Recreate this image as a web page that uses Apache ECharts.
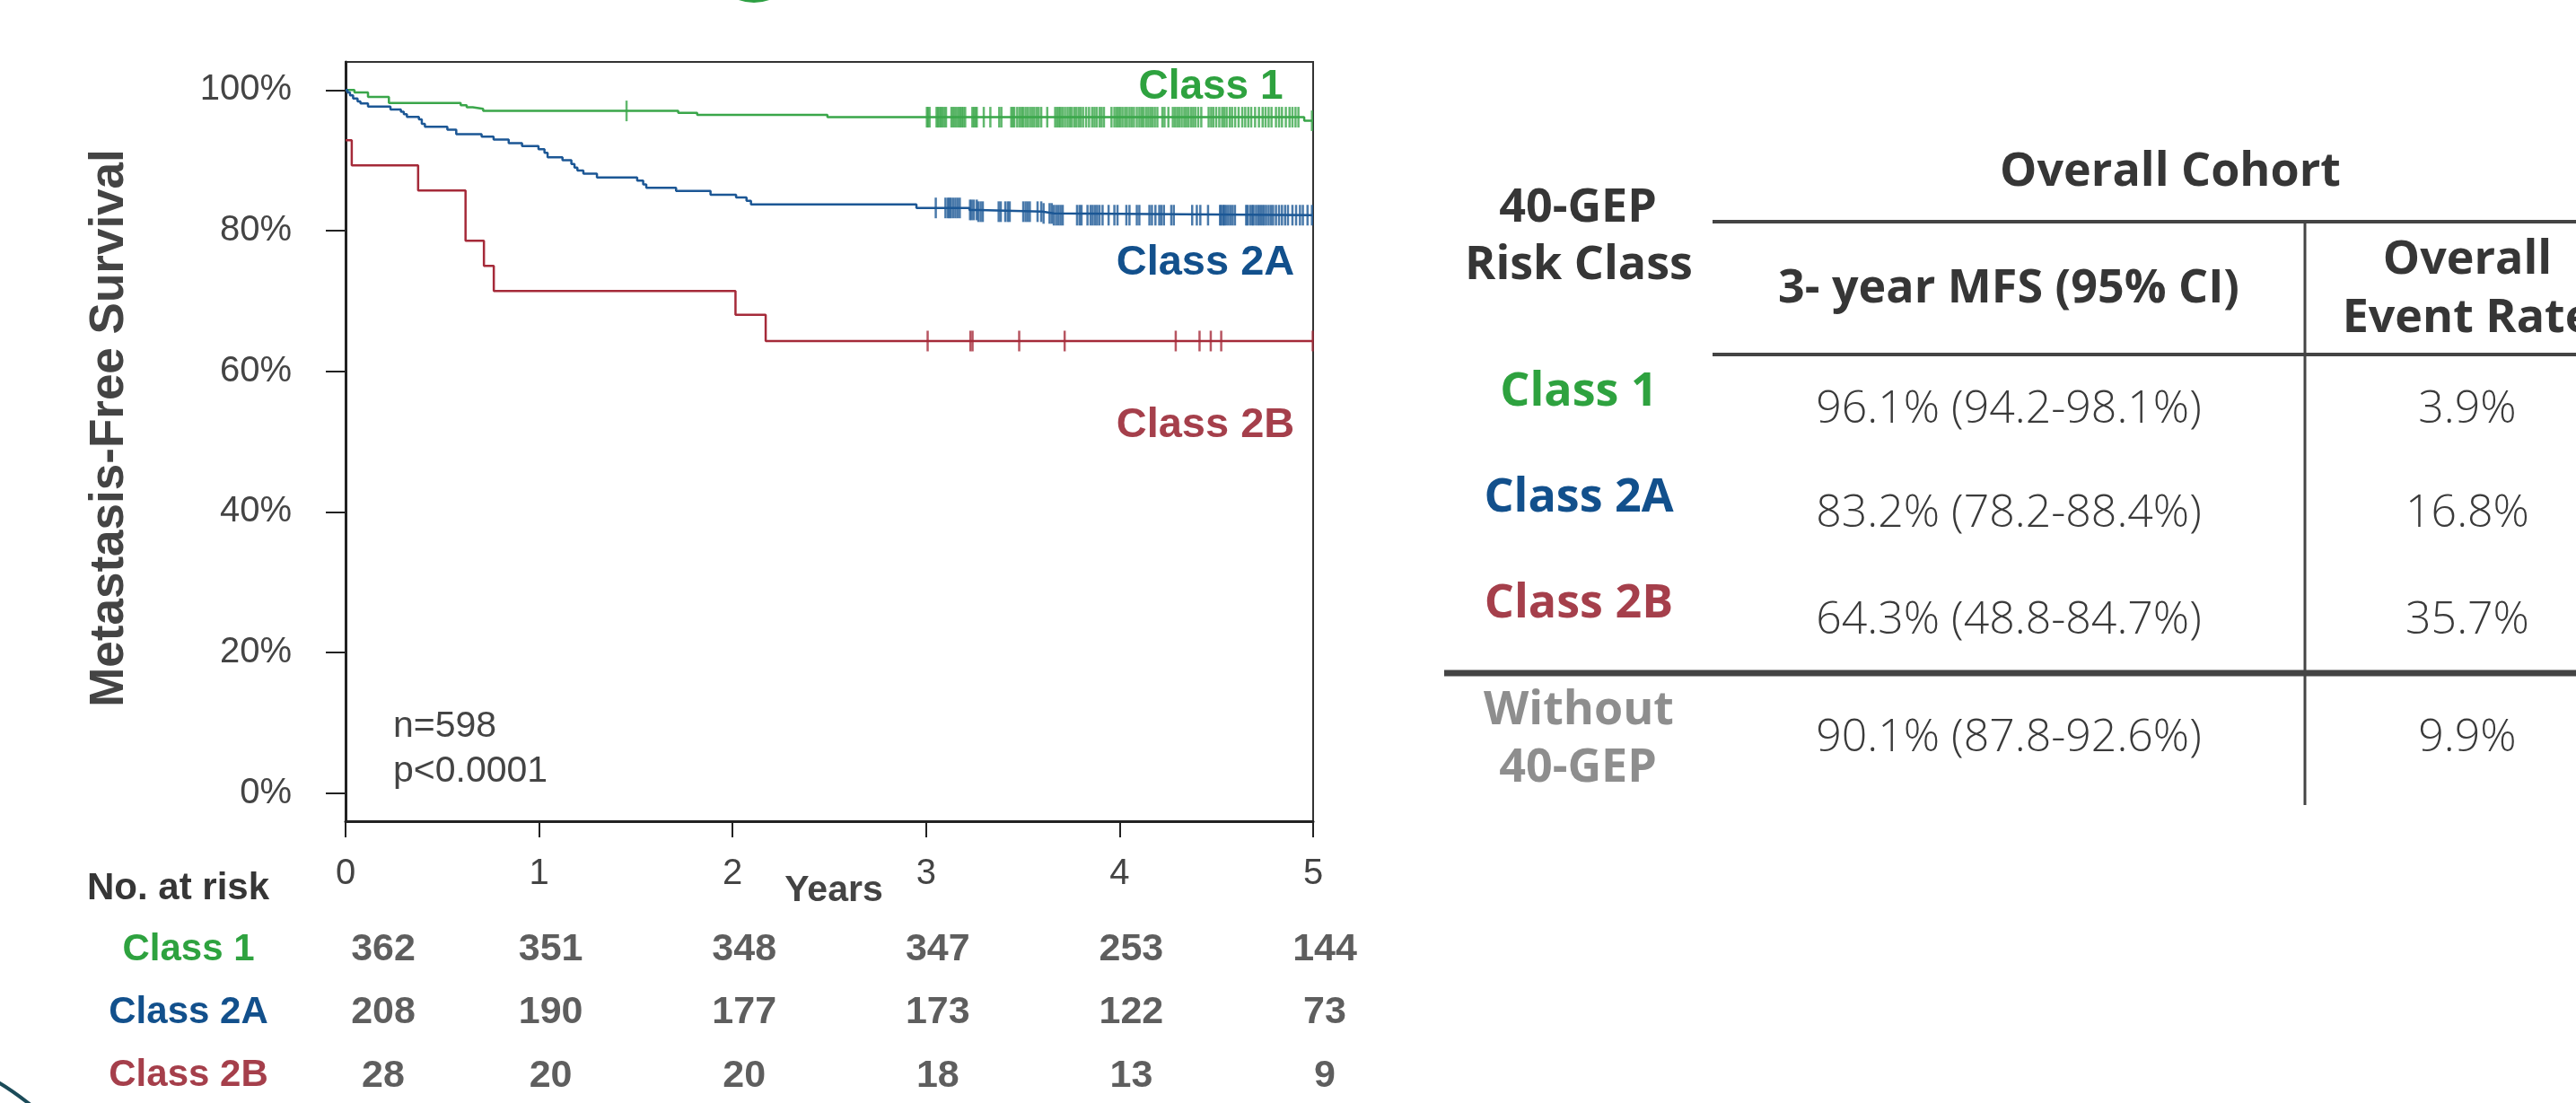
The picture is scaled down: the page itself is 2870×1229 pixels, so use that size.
<!DOCTYPE html>
<html><head><meta charset="utf-8">
<script src="https://cdn.jsdelivr.net/npm/echarts@6/dist/echarts.min.js"></script>
<style>html,body{margin:0;padding:0;background:#fff}#c{width:2870px;height:1229px}</style>
</head><body><div id="c"></div>
<script>
// ---------- data ----------
const years = [0, 1, 2, 3, 4, 5];
const yTicks = [0, 20, 40, 60, 80, 100];
const classNames = ['Class 1', 'Class 2A', 'Class 2B'];

// Kaplan-Meier steps [years, survival %]
const class1Steps = [[0,100],[0.046,99.66],[0.116,99.02],[0.224,98.17],[0.595,97.83],[0.626,97.54],[0.657,97.32],[0.711,97.03],[1.719,96.77],[1.817,96.47],[2.49,96.14],[4.954,95.63]];
const class2ASteps = [[0,100],[0.01,99.66],[0.023,99.24],[0.039,98.81],[0.062,98.39],[0.077,98.09],[0.116,97.66],[0.232,97.24],[0.286,96.90],[0.301,96.56],[0.317,96.18],[0.379,95.84],[0.394,95.20],[0.410,94.78],[0.526,94.35],[0.572,93.72],[0.703,93.38],[0.765,92.95],[0.843,92.44],[0.912,92.02],[0.997,91.59],[1.028,91.08],[1.044,90.45],[1.121,90.02],[1.167,89.47],[1.183,88.96],[1.198,88.54],[1.229,88.11],[1.299,87.56],[1.507,87.13],[1.538,86.58],[1.554,86.11],[1.708,85.65],[1.886,85.10],[2.018,84.71],[2.072,84.25],[2.095,83.74],[2.950,83.23],[3.224,82.95],[3.27,82.7],[3.60,82.45],[3.66,82.2]];
const class2BSteps = [[0,92.86],[0.032,89.29],[0.375,85.71],[0.62,78.57],[0.715,75.0],[0.766,71.43],[2.015,68.03],[2.171,64.3]];

// censoring times (years)
const class1Censor = [1.452,3.004,3.010,3.018,3.054,3.061,3.069,3.077,3.084,3.094,3.103,3.131,3.140,3.149,3.159,3.169,3.177,3.185,3.193,3.202,3.239,3.247,3.255,3.262,3.298,3.332,3.378,3.389,3.440,3.448,3.456,3.471,3.483,3.494,3.502,3.514,3.525,3.537,3.548,3.559,3.571,3.582,3.595,3.626,3.667,3.677,3.687,3.695,3.706,3.718,3.731,3.742,3.752,3.765,3.776,3.788,3.799,3.811,3.827,3.842,3.858,3.870,3.881,3.896,3.907,3.919,3.958,3.973,3.984,3.994,4.004,4.015,4.028,4.038,4.051,4.062,4.074,4.089,4.102,4.113,4.123,4.136,4.148,4.159,4.170,4.182,4.195,4.221,4.232,4.252,4.275,4.287,4.298,4.309,4.321,4.334,4.344,4.355,4.368,4.380,4.391,4.406,4.422,4.460,4.473,4.484,4.499,4.515,4.530,4.541,4.553,4.569,4.581,4.597,4.615,4.634,4.649,4.665,4.680,4.700,4.720,4.739,4.754,4.770,4.785,4.808,4.824,4.839,4.859,4.878,4.893,4.909,4.924,4.994];
const class2ACensor = [3.050,3.100,3.112,3.120,3.128,3.139,3.151,3.162,3.174,3.227,3.236,3.247,3.262,3.270,3.282,3.293,3.375,3.386,3.409,3.422,3.432,3.502,3.514,3.525,3.536,3.576,3.595,3.607,3.638,3.649,3.660,3.672,3.684,3.695,3.706,3.780,3.793,3.803,3.834,3.850,3.861,3.873,3.884,3.896,3.912,3.943,3.973,3.989,4.035,4.051,4.089,4.102,4.154,4.167,4.185,4.205,4.216,4.229,4.267,4.280,4.375,4.399,4.417,4.457,4.519,4.525,4.535,4.541,4.550,4.561,4.572,4.584,4.596,4.654,4.661,4.674,4.685,4.692,4.705,4.716,4.726,4.736,4.746,4.757,4.770,4.782,4.793,4.808,4.824,4.839,4.855,4.870,4.893,4.912,4.932,4.947,4.971,4.994];
const class2BCensor = [3.008,3.229,3.240,3.481,3.716,4.290,4.413,4.471,4.525,4.998];

// number at risk
const riskClass1 = [362, 351, 348, 347, 253, 144];
const riskClass2A = [208, 190, 177, 173, 122, 73];
const riskClass2B = [28, 20, 20, 18, 13, 9];

// summary table
const tableRows = ['Class 1', 'Class 2A', 'Class 2B'];
const mfs3yr = ['96.1% (94.2-98.1%)', '83.2% (78.2-88.4%)', '64.3% (48.8-84.7%)', '90.1% (87.8-92.6%)'];
const eventRate = ['3.9%', '16.8%', '35.7%', '9.9%'];

// ---------- styling ----------
const lineColors = ['#3aa64a', '#1c5795', '#a52a39'];
const textColors = ['#2ea23f', '#12508c', '#a53f4b'];
const gray = '#8e8e8e';
const dark = '#363636';
const SANS = '"Liberation Sans", Arial, sans-serif';
const TBL = '"Open Sans", "Noto Sans", sans-serif';

function stepValue(steps, t) {
  let v = steps[0][1];
  for (const s of steps) { if (s[0] <= t) v = s[1]; else break; }
  return v;
}
function curveData(steps) {
  const d = steps.map(s => [s[0], s[1]]);
  d.push([5, steps[steps.length - 1][1]]);
  return d;
}
const allSteps = [class1Steps, class2ASteps, class2BSteps];
const allCensor = [class1Censor, class2ACensor, class2BCensor];
const allRisk = [riskClass1, riskClass2A, riskClass2B];
const rowIdx = classNames.map((c, i) => i);

const series = [];
allSteps.forEach((st, i) => {
  series.push({
    type: 'line', step: 'end', xAxisIndex: 0, yAxisIndex: 0,
    data: curveData(st), symbol: 'none', z: 3,
    lineStyle: { color: lineColors[i], width: 2.5 }, silent: true
  });
});
allCensor.forEach((ct, i) => {
  series.push({
    type: 'scatter', xAxisIndex: 0, yAxisIndex: 0,
    data: ct.map(t => [t, stepValue(allSteps[i], t)]),
    symbol: 'rect', symbolSize: [2.5, 23], z: 4,
    itemStyle: { color: lineColors[i] }, silent: true
  });
});
const riskData = [];
allRisk.forEach((arr, i) => {
  arr.forEach((n, j) => {
    riskData.push({ value: [years[j], rowIdx[i], n], label: { offset: [j === 0 ? 42 : 13, 0] } });
  });
});
series.push({
  type: 'scatter', xAxisIndex: 1, yAxisIndex: 1, data: riskData,
  symbolSize: 1, itemStyle: { color: 'rgba(0,0,0,0)' }, silent: true,
  label: { show: true, position: 'inside', formatter: p => String(p.value[2]),
    fontFamily: SANS, fontWeight: 'bold', fontSize: 43, color: dark }
});

function txt(text, x, y, font, fill, align) {
  return { type: 'text', x: x, y: y, silent: true,
    style: { text: text, font: font, fill: fill, align: align || 'center', verticalAlign: 'middle',
      textAlign: align || 'center', textVerticalAlign: 'middle' } };
}
function ln(x1, y1, x2, y2, w, c) {
  return { type: 'line', silent: true, shape: { x1, y1, x2, y2 }, style: { stroke: c || '#444', lineWidth: w } };
}

const graphics = [
  // slide decorations
  { type: 'circle', silent: true, shape: { cx: 840, cy: -47, r: 50 }, style: { fill: '#2ea043' } },
  { type: 'bezierCurve', silent: true, shape: { x1: -2, y1: 1206, x2: 34, y2: 1231, cpx1: 12, cpy1: 1214 }, style: { stroke: '#1b4b59', lineWidth: 4, fill: null } },
  // y axis title
  { type: 'text', x: 122, y: 477, rotation: Math.PI / 2, silent: true,
    style: { text: 'Metastasis-Free Survival', font: 'bold 53px ' + SANS, fill: '#444', align: 'center', verticalAlign: 'middle', textAlign: 'center', textVerticalAlign: 'middle' } },
  // in-plot labels
  txt('Class 1', 1349, 97, 'bold 46px ' + SANS, textColors[0]),
  txt('Class 2A', 1343, 293, 'bold 47px ' + SANS, textColors[1]),
  txt('Class 2B', 1343, 474, 'bold 47px ' + SANS, textColors[2]),
  txt('n=598', 438, 810, '41px ' + SANS, '#444', 'left'),
  txt('p<0.0001', 438, 860, '41px ' + SANS, '#444', 'left'),
  txt('Years', 929, 993, 'bold 41px ' + SANS, '#444'),
  txt('No. at risk', 97, 990, 'bold 42px ' + SANS, dark, 'left'),
  // summary table
  txt('Overall Cohort', 2418, 192, 'bold 52px ' + TBL, dark),
  ln(1908, 247, 2870, 247, 4),
  txt('40-GEP', 1758, 232, 'bold 52px ' + TBL, dark),
  txt('Risk Class', 1759, 296, 'bold 52px ' + TBL, dark),
  txt('3- year MFS (95% CI)', 2238, 322, 'bold 52px ' + TBL, dark),
  txt('Overall', 2749, 290, 'bold 52px ' + TBL, dark),
  txt('Event Rate', 2749, 355, 'bold 52px ' + TBL, dark),
  ln(1908, 395, 2870, 395, 4),
  ln(2568, 247, 2568, 897, 3),
  ln(1609, 750, 2870, 750, 7),
  txt('Without', 1759, 792, 'bold 52px ' + TBL, gray),
  txt('40-GEP', 1758, 856, 'bold 52px ' + TBL, gray)
];
const rowLabelY = [437, 555, 673];
const rowDataY = [457, 573, 692, 823];
tableRows.forEach((r, i) => graphics.push(txt(r, 1759, rowLabelY[i], 'bold 52px ' + TBL, textColors[i])));
mfs3yr.forEach((s, i) => graphics.push(txt(s, 2238, rowDataY[i], '300 50px ' + TBL, '#3a3a3a')));
eventRate.forEach((s, i) => graphics.push(txt(s, 2749, rowDataY[i], '300 50px ' + TBL, '#3a3a3a')));

const chart = echarts.init(document.getElementById('c'), null, { renderer: 'canvas' });
chart.setOption({
  animation: false,
  backgroundColor: '#fff',
  grid: [
    { left: 385, top: 69, width: 1078, height: 846, show: true, borderColor: '#333', borderWidth: 2, backgroundColor: 'transparent' },
    { left: 385, top: 1023, width: 1078, height: 197 }
  ],
  xAxis: [
    { type: 'value', gridIndex: 0, min: 0, max: 5, interval: 1,
      axisLine: { onZero: false, lineStyle: { color: '#222', width: 3 } },
      axisTick: { length: 18, lineStyle: { color: '#222', width: 2 } },
      axisLabel: { fontFamily: SANS, fontSize: 40, color: '#444', margin: 39, formatter: v => String(v) },
      splitLine: { show: false } },
    { type: 'value', gridIndex: 1, min: 0, max: 5, show: false }
  ],
  yAxis: [
    { type: 'value', gridIndex: 0, min: -4, max: 104,
      axisLine: { show: true, onZero: false, lineStyle: { color: '#222', width: 3 } },
      axisTick: { show: true, length: 22, customValues: yTicks, lineStyle: { color: '#222', width: 2 } },
      axisLabel: { customValues: yTicks, formatter: v => v + '%', fontFamily: SANS, fontSize: 40, color: '#444', margin: 60 },
      splitLine: { show: false } },
    { type: 'value', gridIndex: 1, inverse: true, min: -0.5, max: 2.3,
      axisLine: { show: false }, axisTick: { show: false }, splitLine: { show: false },
      axisLabel: { customValues: rowIdx, align: 'center', margin: 175, fontFamily: SANS, fontWeight: 'bold', fontSize: 42,
        formatter: v => '{c' + v + '|' + classNames[v] + '}',
        rich: { c0: { color: textColors[0], fontFamily: SANS, fontWeight: 'bold', fontSize: 42 },
                c1: { color: textColors[1], fontFamily: SANS, fontWeight: 'bold', fontSize: 42 },
                c2: { color: textColors[2], fontFamily: SANS, fontWeight: 'bold', fontSize: 42 } } } }
  ],
  series: series,
  graphic: graphics
});
</script></body></html>
